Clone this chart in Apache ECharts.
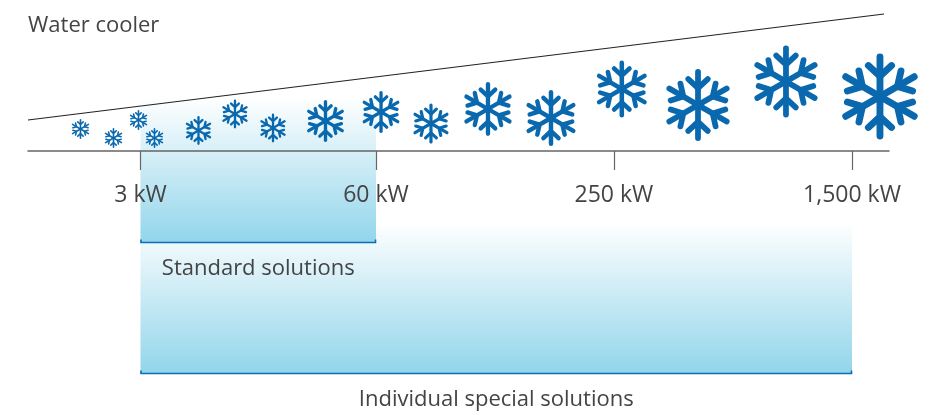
<!DOCTYPE html>
<html><head><meta charset="utf-8">
<style>html,body{margin:0;padding:0;background:#fff}#c{width:929px;height:415px}</style>
<script src="https://cdn.jsdelivr.net/npm/echarts@6/dist/echarts.min.js"></script>
</head><body><div id="c"></div>
<script>
const chartTitle = 'Water cooler';
const tickLabels = ['3 kW', '60 kW', '250 kW', '1,500 kW'];
const tickScale = [0, 0.993, 1.996, 3];
const bandNames = ['Individual special solutions', 'Standard solutions'];
const bandFrom = [0, 0];
const bandTo = [3, 0.993];
const bandTop = [-71, 54];
const bandBottom = [-222.5, -91.5];
const bandLabelLevel = [-249, -118];
const trendScale = [-0.4743, 3.135];
const trendLevel = [31, 137];
const flakeScale = [-0.2530, -0.1138, -0.0084, 0.0590, 0.2445, 0.3984, 0.5587, 0.7800, 1.0142, 1.2248, 1.4651, 1.7308, 2.0294, 2.3507, 2.7216, 3.1179];
const flakeLevel = [22, 13, 31, 13, 20.5, 37, 23, 30, 39, 27.5, 42, 33, 62, 46, 69.5, 54.5];
const flakeReach = [10, 10, 10, 10, 14.5, 14.5, 14.5, 21, 21, 20, 27, 28, 28.5, 36, 36, 43];

const chart = echarts.init(document.getElementById('c'), null, {renderer: 'canvas'});
const fontName = '"Open Sans"';
const textColor = '#444';
const flakeColor = '#0a69ae';

function flake(params, api) {
  const c = api.coord([api.value(0), api.value(1)]);
  const R = api.size([0, api.value(2)])[1];
  const w = R * 0.16;
  const arm = R - w / 2;
  const children = [];
  for (let k = 0; k < 6; k++) {
    const a = k * Math.PI / 3;
    const rot = (x, y) => [c[0] + x * Math.cos(a) - y * Math.sin(a), c[1] + x * Math.sin(a) + y * Math.cos(a)];
    const st = {stroke: flakeColor, lineWidth: w, lineCap: 'round', lineJoin: 'round', fill: null};
    children.push({type: 'polyline', shape: {points: [rot(0, 0), rot(0, -arm)]}, style: st});
    children.push({type: 'polyline', shape: {points: [rot(-0.27 * R, -0.72 * R), rot(0, -0.47 * R), rot(0.27 * R, -0.72 * R)]}, style: st});
  }
  return {type: 'group', children};
}

function band(params, api) {
  const i = params.dataIndex;
  const tl = api.coord([api.value(0), api.value(2)]);
  const br = api.coord([api.value(1), api.value(3)]);
  const lab = api.coord([(api.value(0) + api.value(1)) / 2, bandLabelLevel[i]]);
  const edge = 3;
  return {type: 'group', children: [
    {type: 'rect', shape: {x: tl[0], y: tl[1], width: br[0] - tl[0], height: br[1] - tl[1]},
      style: {fill: new echarts.graphic.LinearGradient(0, 0, 0, 1, [
        {offset: 0, color: 'rgba(255,255,255,1)'},
        {offset: 1, color: '#92d5eb'}])}},
    {type: 'polyline', shape: {points: [[tl[0] + .5, br[1] - edge], [tl[0] + .5, br[1]], [br[0] - .5, br[1]], [br[0] - .5, br[1] - edge]]},
      style: {stroke: '#0a6fb5', lineWidth: 1.6, fill: null}},
    {type: 'text', style: {text: bandNames[i], x: lab[0], y: lab[1], align: 'center', verticalAlign: 'middle',
      font: '22px ' + fontName, fill: textColor}}
  ]};
}

chart.setOption({
  animation: false,
  title: {text: chartTitle, left: 23, top: 10, textStyle: {fontFamily: 'Open Sans', fontSize: 22, fontWeight: 'normal', color: textColor}},
  grid: {left: 28, right: 40, top: 0, bottom: 264, outerBoundsMode: 'none', containLabel: false},
  xAxis: {type: 'value', min: trendScale[0], max: 3.156, position: 'bottom', z: 3, splitLine: {show: false},
    axisLine: {show: true, onZero: false, lineStyle: {color: '#666', width: 1.5}},
    axisTick: {show: true, length: 19, customValues: tickScale, lineStyle: {color: '#666', width: 1.2}},
    axisLabel: {show: true, margin: 33, fontFamily: 'Open Sans', fontSize: 23, color: textColor, customValues: tickScale,
      hideOverlap: false, showMinLabel: true, showMaxLabel: true,
      formatter: v => tickLabels[tickScale.indexOf(v)]}},
  yAxis: {type: 'value', min: 0, max: 151, show: false, splitLine: {show: false}},
  series: [
    {type: 'custom', z: 1, renderItem: band, clip: false,
      data: bandNames.map((n, i) => [bandFrom[i], bandTo[i], bandTop[i], bandBottom[i]]),
      encode: {x: [0, 1], y: [2, 3]}},
    {type: 'line', z: 4, symbol: 'none', silent: true, clip: false, lineStyle: {color: '#222', width: 1.1},
      data: trendScale.map((x, i) => [x, trendLevel[i]])},
    {type: 'custom', z: 5, renderItem: flake, clip: false,
      data: flakeScale.map((x, i) => [x, flakeLevel[i], flakeReach[i]]),
      encode: {x: 0, y: 1}}
  ]
});
</script></body></html>
